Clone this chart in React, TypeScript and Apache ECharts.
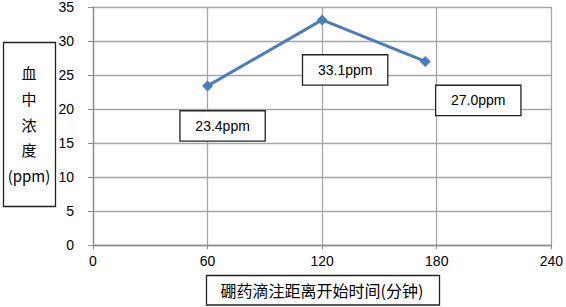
import React, { useEffect, useRef } from "react";
import * as echarts from "echarts";

const timeMinutes = [60, 120, 174];
const concentrationPpm = [23.4, 33.1, 27.0];
const labelOffsets = [
  [15, 40],
  [23, 50],
  [53, 39],
];
const yTitleLines = ["血", "中", "浓", "度", "(ppm)"];
const xTitle = "硼药滴注距离开始时间(分钟)";

export default function App() {
  const ref = useRef<HTMLDivElement>(null);
  useEffect(() => {
    if (!ref.current) return;
    const chart = echarts.init(ref.current, undefined, { renderer: "svg" });
    const font = "'Liberation Sans', Arial, sans-serif";
    const cjk = "'Noto Sans CJK SC', sans-serif";
    chart.setOption({
      animation: false,
      backgroundColor: "#fff",
      grid: { left: 93, right: 11, top: 5, bottom: 62 },
      xAxis: {
        type: "value",
        min: 0,
        max: 240,
        interval: 60,
        axisLine: { show: true, lineStyle: { color: "#8c8c8c", width: 1.3 } },
        axisTick: { show: true, length: 4, lineStyle: { color: "#8c8c8c" } },
        axisLabel: { margin: 9, fontSize: 14, color: "#000", fontFamily: font },
        splitLine: { show: true, lineStyle: { color: "#a6a6a6", width: 1.3 } },
      },
      yAxis: {
        type: "value",
        min: 0,
        max: 35,
        interval: 5,
        axisLine: { show: true, lineStyle: { color: "#8c8c8c", width: 1.3 } },
        axisTick: { show: true, length: 5, lineStyle: { color: "#8c8c8c" } },
        axisLabel: { margin: 19, fontSize: 14, color: "#000", fontFamily: font },
        splitLine: { show: true, lineStyle: { color: "#a6a6a6", width: 1.3 } },
      },
      series: [
        {
          type: "line",
          data: timeMinutes.map((t, i) => ({
            value: [t, concentrationPpm[i]],
            label: { offset: labelOffsets[i] },
          })),
          symbol: "diamond",
          symbolSize: 11,
          lineStyle: { color: "#4a7ebb", width: 3 },
          itemStyle: { color: "#4a7ebb" },
          label: {
            show: true,
            position: "inside",
            formatter: (p: any) => `${Number(p.value[1]).toFixed(1)}ppm`,
            fontSize: 14,
            fontFamily: font,
            color: "#000",
            backgroundColor: "#fff",
            borderColor: "#222",
            borderWidth: 1.3,
            width: 84,
            height: 29,
            lineHeight: 29,
            align: "center",
            verticalAlign: "middle",
          },
        },
      ],
      graphic: [
        {
          type: "rect",
          shape: { x: 3.5, y: 42.5, width: 52, height: 164 },
          style: { fill: "#fff", stroke: "#222", lineWidth: 1.3 },
        },
        {
          type: "text",
          x: 29,
          y: 124,
          style: {
            text: yTitleLines.join("\n"),
            font: `15px ${cjk}`,
            lineHeight: 25.7,
            fill: "#000",
            align: "center",
            verticalAlign: "middle",
          },
        },
        {
          type: "rect",
          shape: { x: 206.5, y: 275.5, width: 233, height: 29.5 },
          style: { fill: "#fff", stroke: "#222", lineWidth: 1.3 },
        },
        {
          type: "text",
          x: 322,
          y: 290,
          style: {
            text: xTitle,
            font: `16px ${cjk}`,
            fill: "#000",
            align: "center",
            verticalAlign: "middle",
          },
        },
      ],
    });
    return () => chart.dispose();
  }, []);
  return (
    <div
      ref={ref}
      style={{ position: "absolute", left: 0, top: 0, width: 566, height: 307 }}
    />
  );
}
